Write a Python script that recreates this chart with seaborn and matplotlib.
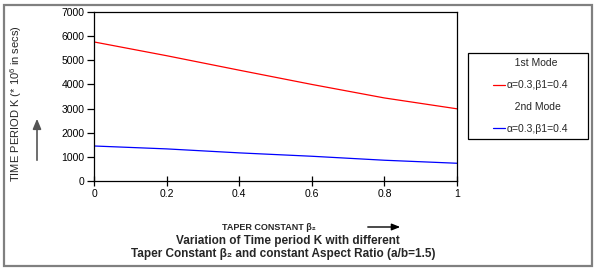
import numpy as np
import pandas as pd
import matplotlib
matplotlib.use("Agg")
import matplotlib.pyplot as plt
from matplotlib.lines import Line2D
from matplotlib.patches import Rectangle
import seaborn as sns

# ---- data ----
taper = [0.0, 0.2, 0.4, 0.6, 0.8, 1.0]
mode1 = [5760, 5190, 4590, 4000, 3440, 2990]
mode2 = [1450, 1330, 1165, 1025, 860, 735]
x_ticks = [0, 0.2, 0.4, 0.6, 0.8, 1]
x_ticklabels = ["0", "0.2", "0.4", "0.6", "0.8", "1"]
y_ticks = [0, 1000, 2000, 3000, 4000, 5000, 6000, 7000]
series_names = ["1st Mode", "2nd Mode"]
legend_label = "\u03b1=0.3,\u03b21=0.4"

df = pd.DataFrame({
    "taper": taper * 2,
    "K": mode1 + mode2,
    "mode": [series_names[0]] * len(taper) + [series_names[1]] * len(taper),
})

sns.set_style("white")
plt.rcParams["font.family"] = ["Liberation Sans", "DejaVu Sans"]
plt.rcParams["mathtext.fontset"] = "custom"
plt.rcParams["mathtext.rm"] = "Liberation Sans"

W, H = 597, 268
fig = plt.figure(figsize=(W / 100, H / 100), dpi=100)
ax = fig.add_axes([94 / W, 1 - 181 / H, (457 - 94) / W, (181 - 12) / H])

sns.lineplot(data=df, x="taper", y="K", hue="mode",
             palette={series_names[0]: "#ff0000", series_names[1]: "#0000ff"},
             linewidth=0.9, ax=ax, legend=False)

ax.set_xlim(0, 1)
ax.set_ylim(0, 7000)
ax.set_xticks(x_ticks)
ax.set_xticklabels(x_ticklabels)
ax.set_yticks(y_ticks)
ax.set_xlabel("")
ax.set_ylabel("")
for s in ax.spines.values():
    s.set_color("black")
    s.set_linewidth(0.9)
ax.tick_params(axis="x", direction="inout", length=7, width=0.9, labelsize=7.5, pad=2, colors="black")
ax.tick_params(axis="y", direction="out", length=5, width=0.9, labelsize=7.5, pad=2, colors="black")
ax.tick_params(bottom=True, left=True)

# y label
fig.text(16 / W, 1 - 104 / H, "TIME PERIOD K (* 10$^{\\mathrm{6}}$ in secs)", rotation=90,
         ha="center", va="center", fontsize=8)
# x label
fig.text(269 / W, 1 - 227 / H, "TAPER CONSTANT \u03b2\u2082", ha="center", va="center",
         fontsize=6.5, fontweight="bold")
# title
fig.text(288 / W, 1 - 241 / H, "Variation of Time period K with different",
         ha="center", va="center", fontsize=8.5, fontweight="bold")
fig.text(283 / W, 1 - 254 / H, "Taper Constant \u03b2\u2082 and constant Aspect Ratio (a/b=1.5)",
         ha="center", va="center", fontsize=8.5, fontweight="bold")

# arrows
fig.add_artist(matplotlib.patches.FancyArrowPatch((37 / W, 1 - 163 / H), (37 / W, 1 - 116 / H),
               transform=fig.transFigure, arrowstyle="-|>,head_length=6,head_width=2.5",
               color="#555555", lw=1.2, mutation_scale=1))
fig.add_artist(matplotlib.patches.FancyArrowPatch((365 / W, 1 - 227 / H), (403 / W, 1 - 227 / H),
               transform=fig.transFigure, arrowstyle="-|>,head_length=5,head_width=2",
               color="black", lw=1.0, mutation_scale=1))

# legend
lines = ax.get_lines()
blank = Line2D([], [], linestyle="none")
handles = [blank, lines[0], blank, lines[1]]
labels = ["   " + series_names[0], legend_label, "   " + series_names[1], legend_label]
leg = fig.legend(handles, labels, loc="upper left",
                 bbox_to_anchor=(492.7 / W, 1 - 58.5 / H), bbox_transform=fig.transFigure,
                 frameon=False, fontsize=7.5, borderpad=0, borderaxespad=0,
                 handlelength=1.15, handletextpad=0.15, labelspacing=1.12)
fig.add_artist(Rectangle((468 / W, 1 - 139 / H), (588 - 468) / W, (139 - 53) / H,
                         transform=fig.transFigure, fill=False, edgecolor="black", lw=0.9))

# outer border
fig.add_artist(Rectangle((3.5 / W, 1 - 265.5 / H), (591.5 - 3.5) / W, (265.5 - 5) / H,
                         transform=fig.transFigure, fill=False, edgecolor="#808080", lw=1.6))

fig.savefig("out.png", dpi=100)
